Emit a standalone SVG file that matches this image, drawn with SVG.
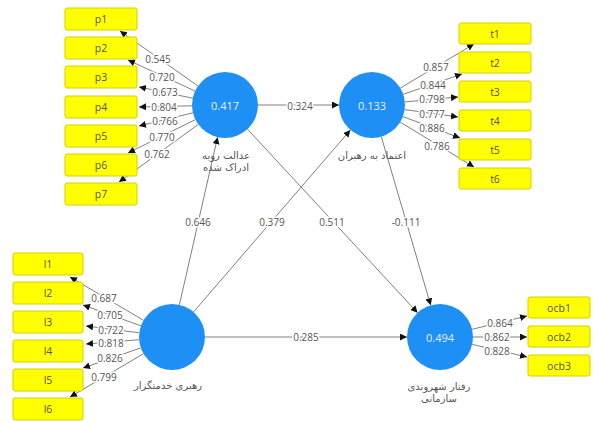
<svg xmlns="http://www.w3.org/2000/svg" width="593" height="422" viewBox="0 0 593 422">
<style>
  .box{fill:#ffff00;stroke:#d2d200;stroke-width:1}
  .btx{font-family:"Open Sans","DejaVu Sans",sans-serif;font-size:10.5px;fill:#555;text-anchor:middle;dominant-baseline:central}
  .lv{fill:#1e8ff5}
  .lvt{font-family:"Open Sans","DejaVu Sans",sans-serif;font-size:11px;fill:#e6f0ff;text-anchor:middle;dominant-baseline:central}
  .nm{font-family:"DejaVu Sans","Noto Sans",sans-serif;font-size:10px;fill:#555;text-anchor:middle;dominant-baseline:central}
  .ln{stroke:#808080;stroke-width:1;fill:none;marker-end:url(#ah)}
  .lb{font-family:"Open Sans","DejaVu Sans",sans-serif;font-size:10px;fill:#555;text-anchor:middle;dominant-baseline:central;stroke:#fff;stroke-width:3;paint-order:stroke;stroke-linejoin:round}
</style>
<defs>
  <marker id="ah" markerUnits="userSpaceOnUse" markerWidth="8" markerHeight="8" refX="7" refY="3.5" orient="auto">
    <path d="M0,0 L7,3.5 L0,7 Z" fill="#111"/>
  </marker>
</defs>
<rect width="593" height="422" fill="#fff"/>
<g id="connectors">
  <!-- A outer loadings -->
  <line class="ln" x1="198" y1="86" x2="120" y2="31"/>
  <line class="ln" x1="195.1" y1="91.1" x2="128" y2="60"/>
  <line class="ln" x1="192.7" y1="98.2" x2="139" y2="87"/>
  <line class="ln" x1="192" y1="105.8" x2="139" y2="107"/>
  <line class="ln" x1="193" y1="112.8" x2="139" y2="126"/>
  <line class="ln" x1="195.4" y1="119.6" x2="128" y2="153"/>
  <line class="ln" x1="198.3" y1="124.4" x2="119" y2="182"/>
  <!-- B outer -->
  <line class="ln" x1="400.3" y1="88.1" x2="474" y2="44"/>
  <line class="ln" x1="403.2" y1="94.3" x2="462" y2="74"/>
  <line class="ln" x1="404.9" y1="101.9" x2="458" y2="97"/>
  <line class="ln" x1="404.7" y1="109.6" x2="458" y2="117"/>
  <line class="ln" x1="402.9" y1="116.6" x2="460" y2="138"/>
  <line class="ln" x1="400.2" y1="122.1" x2="474" y2="167"/>
  <!-- C outer -->
  <line class="ln" x1="143.5" y1="320.3" x2="70" y2="277"/>
  <line class="ln" x1="140.9" y1="325.8" x2="83" y2="305"/>
  <line class="ln" x1="139.3" y1="332.8" x2="86" y2="326"/>
  <line class="ln" x1="139.1" y1="339.7" x2="86" y2="344"/>
  <line class="ln" x1="140.8" y1="347.9" x2="83" y2="368"/>
  <line class="ln" x1="143.5" y1="353.7" x2="70" y2="397"/>
  <!-- D outer -->
  <line class="ln" x1="472.1" y1="329.3" x2="527" y2="316"/>
  <line class="ln" x1="473" y1="337" x2="527" y2="337"/>
  <line class="ln" x1="472.1" y1="344.4" x2="527" y2="357"/>
  <!-- structural -->
  <line class="ln" x1="258" y1="105" x2="339" y2="105"/>
  <line class="ln" x1="179.4" y1="304.8" x2="217.6" y2="137.2"/>
  <line class="ln" x1="193.5" y1="312" x2="350.4" y2="130"/>
  <line class="ln" x1="247.5" y1="129.2" x2="417.6" y2="312.8"/>
  <line class="ln" x1="381.3" y1="136.7" x2="430.7" y2="305.3"/>
  <line class="ln" x1="205" y1="337" x2="407" y2="337"/>
  <!-- labels -->
  <text class="lb" x="158" y="59">0.545</text>
  <text class="lb" x="162" y="77">0.720</text>
  <text class="lb" x="165" y="92">0.673</text>
  <text class="lb" x="164" y="107">0.804</text>
  <text class="lb" x="165" y="121">0.766</text>
  <text class="lb" x="162" y="137">0.770</text>
  <text class="lb" x="157" y="154">0.762</text>
  <text class="lb" x="436" y="67">0.857</text>
  <text class="lb" x="433" y="85">0.844</text>
  <text class="lb" x="432" y="99">0.798</text>
  <text class="lb" x="432" y="114">0.777</text>
  <text class="lb" x="432" y="128">0.886</text>
  <text class="lb" x="437" y="146">0.786</text>
  <text class="lb" x="104" y="298">0.687</text>
  <text class="lb" x="110" y="315">0.705</text>
  <text class="lb" x="111" y="330">0.722</text>
  <text class="lb" x="111" y="343">0.818</text>
  <text class="lb" x="110" y="358">0.826</text>
  <text class="lb" x="104" y="377">0.799</text>
  <text class="lb" x="500" y="323">0.864</text>
  <text class="lb" x="497" y="337">0.862</text>
  <text class="lb" x="497" y="351">0.828</text>
  <text class="lb" x="300" y="106">0.324</text>
  <text class="lb" x="198" y="222">0.646</text>
  <text class="lb" x="272" y="222">0.379</text>
  <text class="lb" x="332" y="222">0.511</text>
  <text class="lb" x="406" y="222">-0.111</text>
  <text class="lb" x="306" y="337">0.285</text>
</g>
<g id="p1"><rect class="box" x="65" y="8" width="72" height="22" rx="2"/><text class="btx" x="101" y="19">p1</text></g>
<g id="p2"><rect class="box" x="65" y="37" width="72" height="22" rx="2"/><text class="btx" x="101" y="48">p2</text></g>
<g id="p3"><rect class="box" x="65" y="66" width="72" height="22" rx="2"/><text class="btx" x="101" y="77">p3</text></g>
<g id="p4"><rect class="box" x="65" y="96" width="72" height="22" rx="2"/><text class="btx" x="101" y="107">p4</text></g>
<g id="p5"><rect class="box" x="65" y="125" width="72" height="22" rx="2"/><text class="btx" x="101" y="136">p5</text></g>
<g id="p6"><rect class="box" x="65" y="154" width="72" height="22" rx="2"/><text class="btx" x="101" y="165">p6</text></g>
<g id="p7"><rect class="box" x="65" y="183" width="72" height="22" rx="2"/><text class="btx" x="101" y="194">p7</text></g>
<g id="t1"><rect class="box" x="459" y="23" width="72" height="21" rx="2"/><text class="btx" x="495" y="33.5">t1</text></g>
<g id="t2"><rect class="box" x="459" y="52" width="72" height="21" rx="2"/><text class="btx" x="495" y="62.5">t2</text></g>
<g id="t3"><rect class="box" x="459" y="81" width="72" height="21" rx="2"/><text class="btx" x="495" y="91.5">t3</text></g>
<g id="t4"><rect class="box" x="459" y="110" width="72" height="21" rx="2"/><text class="btx" x="495" y="120.5">t4</text></g>
<g id="t5"><rect class="box" x="459" y="139" width="72" height="21" rx="2"/><text class="btx" x="495" y="149.5">t5</text></g>
<g id="t6"><rect class="box" x="459" y="168" width="72" height="21" rx="2"/><text class="btx" x="495" y="178.5">t6</text></g>
<g id="l1"><rect class="box" x="13" y="253" width="70" height="22" rx="2"/><text class="btx" x="48" y="264">l1</text></g>
<g id="l2"><rect class="box" x="13" y="282" width="70" height="22" rx="2"/><text class="btx" x="48" y="293">l2</text></g>
<g id="l3"><rect class="box" x="13" y="311" width="70" height="22" rx="2"/><text class="btx" x="48" y="322">l3</text></g>
<g id="l4"><rect class="box" x="13" y="340" width="70" height="22" rx="2"/><text class="btx" x="48" y="351">l4</text></g>
<g id="l5"><rect class="box" x="13" y="369" width="70" height="22" rx="2"/><text class="btx" x="48" y="380">l5</text></g>
<g id="l6"><rect class="box" x="13" y="398" width="70" height="22" rx="2"/><text class="btx" x="48" y="409">l6</text></g>
<g id="ocb1"><rect class="box" x="528" y="297" width="62" height="21" rx="2"/><text class="btx" x="559" y="307.5">ocb1</text></g>
<g id="ocb2"><rect class="box" x="528" y="326" width="62" height="21" rx="2"/><text class="btx" x="559" y="336.5">ocb2</text></g>
<g id="ocb3"><rect class="box" x="528" y="355" width="62" height="21" rx="2"/><text class="btx" x="559" y="365.5">ocb3</text></g>
<g id="justice">
  <circle class="lv" cx="225" cy="105" r="33"/>
  <text class="lvt" x="225" y="105">0.417</text>
  <text class="nm" x="226" y="155">عدالت رویه</text>
  <text class="nm" x="226" y="167">ادراک شده</text>
</g>
<g id="trust">
  <circle class="lv" cx="372" cy="105" r="33"/>
  <text class="lvt" x="372" y="105">0.133</text>
  <text class="nm" x="372" y="155">اعتماد به رهبران</text>
</g>
<g id="servant">
  <circle class="lv" cx="172" cy="337" r="33"/>
  <text class="nm" x="168" y="385">رهبری خدمتگزار</text>
</g>
<g id="ocb">
  <circle class="lv" cx="440" cy="337" r="33"/>
  <text class="lvt" x="440" y="337">0.494</text>
  <text class="nm" x="439" y="386">رفتار شهروندی</text>
  <text class="nm" x="439" y="398">سازمانی</text>
</g>
</svg>
